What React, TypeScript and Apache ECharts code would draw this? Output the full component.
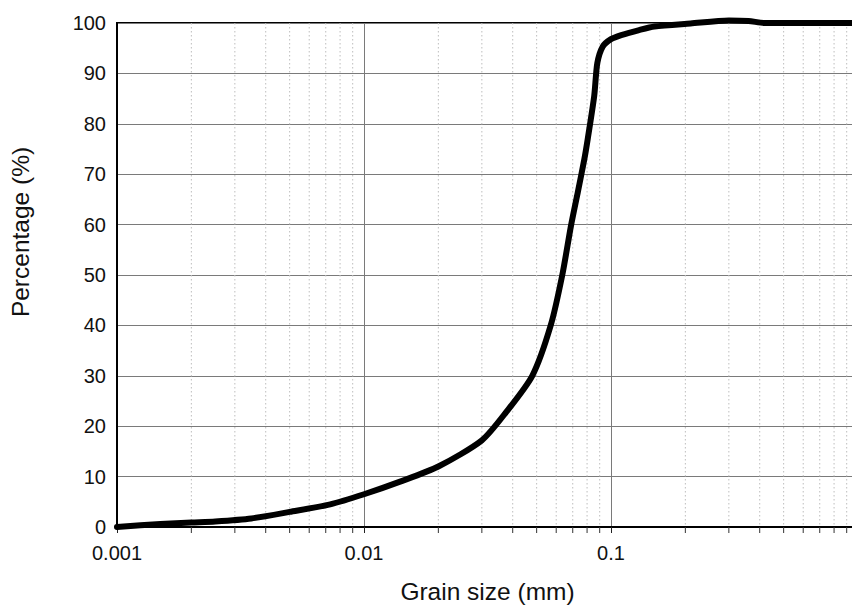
import React, { useEffect, useRef } from "react";
import * as echarts from "echarts";

// Grain size (mm) and cumulative passing percentage
const grainSizes = [
  0.001, 0.0015, 0.002, 0.0025, 0.0035, 0.005, 0.0073, 0.01, 0.014, 0.02, 0.03,
  0.0375, 0.048, 0.057, 0.0635, 0.069, 0.0735, 0.078, 0.0805, 0.0855, 0.088,
  0.0925, 0.1, 0.11, 0.13, 0.15, 0.21, 0.3, 0.36, 0.42, 1.0,
];
const percentages = [
  0, 0.6, 0.9, 1.1, 1.7, 3.0, 4.5, 6.5, 9.0, 12.0, 17.2, 22.7, 30.0, 40.0, 50.0,
  60.0, 66.6, 73.0, 77.0, 85.5, 92.0, 95.3, 96.8, 97.6, 98.6, 99.3, 99.9, 100.5,
  100.4, 100.0, 100.0,
];

// minor (dotted) grid positions on the log axis
const decades = [0.001, 0.01, 0.1];
const minorMultipliers = [2, 3, 4, 5, 6, 7, 8, 9];
// tick labels (the label at 1 falls outside the visible picture)
const xTickLabels: Record<string, string> = {
  "0.001": "0.001",
  "0.01": "0.01",
  "0.1": "0.1",
  "1": "",
};

const FONT = "'Liberation Sans', Arial, Helvetica, sans-serif";

export default function App() {
  const ref = useRef<HTMLDivElement>(null);

  useEffect(() => {
    if (!ref.current) return;
    document.documentElement.style.overflow = "hidden";
    document.body.style.overflow = "hidden";
    const chart = echarts.init(ref.current, undefined, { renderer: "svg" });

    const minorValues: number[][] = [];
    decades.forEach((d) =>
      minorMultipliers.forEach((m) => minorValues.push([+(d * m).toPrecision(6), 0]))
    );

    chart.setOption({
      animation: false,
      backgroundColor: "#ffffff",
      grid: {
        left: 116,
        top: 23,
        right: 12,
        bottom: 74,
        show: true,
        borderColor: "#000",
        borderWidth: 2,
        backgroundColor: "transparent",
      },
      xAxis: {
        type: "log",
        logBase: 10,
        min: 0.001,
        max: 1,
        name: "Grain size (mm)",
        nameLocation: "middle",
        nameGap: 52,
        nameTextStyle: { fontSize: 24.5, color: "#111", fontFamily: FONT },
        axisLine: { show: true, onZero: false, lineStyle: { color: "#000", width: 2 } },
        axisTick: { show: true, inside: false, length: 6, lineStyle: { color: "#222", width: 1 } },
        axisLabel: {
          fontSize: 20,
          color: "#111",
          fontFamily: FONT,
          margin: 16,
          formatter: (v: number) => {
            const key = String(parseFloat(v.toPrecision(6)));
            return xTickLabels[key] ?? key;
          },
        },
        splitLine: { show: true, lineStyle: { color: "#7a7a7a", width: 1 } },
      },
      yAxis: {
        type: "value",
        min: 0,
        max: 100,
        interval: 10,
        name: "Percentage (%)",
        nameLocation: "middle",
        nameGap: 84,
        nameTextStyle: {
          fontSize: 24.5,
          color: "#111",
          fontFamily: FONT,
          padding: [0, 0, 0, 86],
        },
        axisLine: { show: true, lineStyle: { color: "#000", width: 2 } },
        axisTick: { show: false },
        axisLabel: { fontSize: 20, color: "#111", fontFamily: FONT, margin: 11 },
        splitLine: { show: true, lineStyle: { color: "#7a7a7a", width: 1 } },
      },
      series: [
        {
          type: "custom",
          silent: true,
          z: 1,
          data: minorValues,
          encode: { x: 0, y: 1 },
          renderItem: (params: any, api: any) => {
            const v = api.value(0);
            const bottom = api.coord([v, 0]);
            const top = api.coord([v, 100]);
            return {
              type: "group",
              children: [
                {
                  type: "line",
                  shape: { x1: bottom[0], y1: top[1], x2: bottom[0], y2: bottom[1] },
                  style: { stroke: "#bdbdbd", lineWidth: 1, lineDash: [1.5, 2.5] },
                },
                {
                  type: "line",
                  shape: { x1: bottom[0], y1: bottom[1], x2: bottom[0], y2: bottom[1] + 6 },
                  style: { stroke: "#333", lineWidth: 1 },
                },
              ],
            };
          },
        },
        {
          type: "line",
          z: 5,
          clip: false,
          symbol: "none",
          smooth: 0.25,
          data: grainSizes.map((g, i) => [g, percentages[i]]),
          lineStyle: { color: "#000", width: 6, join: "round", cap: "round" },
        },
      ],
    });

    return () => chart.dispose();
  }, []);

  return (
    <div
      ref={ref}
      style={{ position: "fixed", left: 0, top: 0, width: 870, height: 609, background: "#fff" }}
    />
  );
}
